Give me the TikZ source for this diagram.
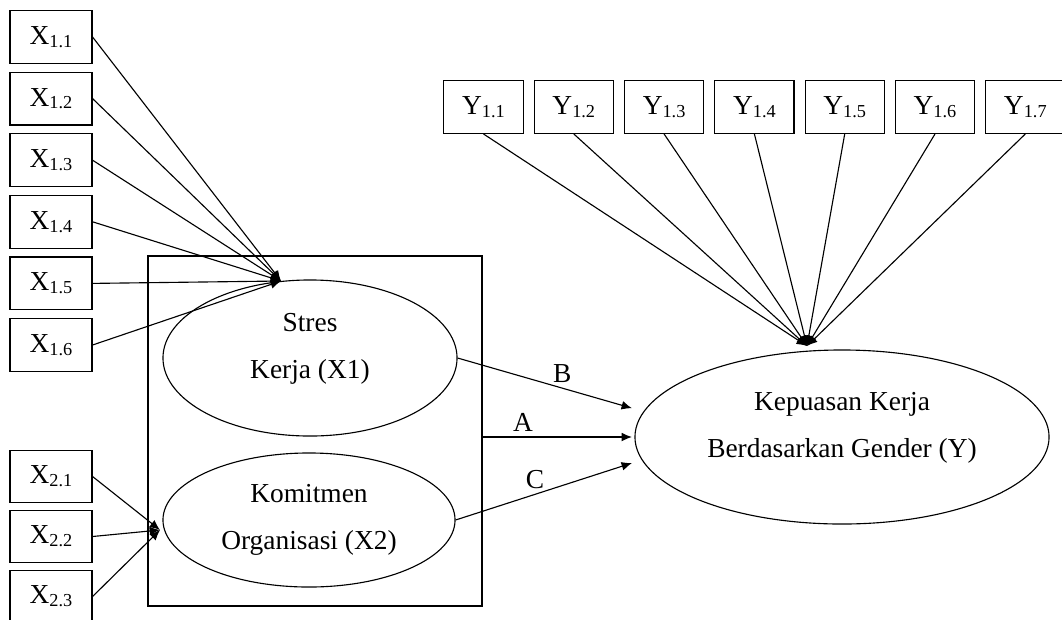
\documentclass[tikz,border=0pt]{standalone}
\usepackage{fontspec}
\setmainfont{Liberation Serif}
\usetikzlibrary{positioning, arrows.meta, calc, shapes.geometric}
\newcommand{\indic}[2]{#1\raisebox{-2pt}{\fontsize{13}{13}\selectfont #2}}

\begin{document}
\begin{tikzpicture}[x=0.025cm, y=-0.025cm,
    ind/.style={draw, line width=0.8pt, rectangle, minimum width=2.05cm, minimum height=1.32cm, inner sep=0pt, font=\fontsize{19.5}{23}\selectfont},
    lat/.style={draw, line width=0.8pt, ellipse, inner sep=0pt, align=center, font=\fontsize{19.5}{33}\selectfont},
    load/.style={-{Latex[length=2.6mm,width=2.2mm]}, line width=0.8pt},
    lbl/.style={above=0pt, font=\fontsize{19.5}{23}\selectfont}
]

    \path[use as bounding box, clip] (0,0) rectangle (1062,619);

    % Box round the two exogenous constructs
    \node[draw, line width=0.8pt, minimum width=8.35cm, minimum height=8.75cm] (grp) at (315,431) {};

    % Latent variables (text of X1 and Y sits a little above centre)
    \node[lat, minimum width=7.35cm, minimum height=3.9cm, text depth=17pt] (stres) at (310,358) {Stres\\Kerja (X1)};
    \node[lat, minimum width=7.3cm, minimum height=3.35cm] (komit) at (309,520) {Komitmen\\Organisasi (X2)};
    \node[lat, minimum width=10.35cm, minimum height=4.35cm, text depth=17pt] (kepuasan) at (842,437) {Kepuasan Kerja\\Berdasarkan Gender (Y)};

    % Points where the indicator arrows meet
    \coordinate (x1tip) at (281,281);
    \coordinate (x2tip) at (160,530);
    \coordinate (ytip) at (807,346);

    % Indicators of X1
    \foreach \i/\y in {1/37, 2/98.6, 3/160.2, 4/221.8, 5/283.4, 6/345} {
        \node[ind] (x1\i) at (51,\y) {\indic{X}{1.\i}};
        \draw[load] (x1\i.east) -- (x1tip);
    }

    % Indicators of X2
    \foreach \i/\y in {1/476.5, 2/536.5, 3/596.5} {
        \node[ind] (x2\i) at (51,\y) {\indic{X}{2.\i}};
        \draw[load] (x2\i.east) -- (x2tip);
    }

    % Indicators of Y
    \foreach \i in {1,...,7} {
        \node[ind, minimum width=1.98cm] (y\i) at ({483.5+90.3*(\i-1)},107) {\indic{Y}{1.\i}};
        \draw[load] (y\i.south) -- (ytip);
    }

    % Paths to Y
    \draw[load] (stres.east) -- ([xshift=-0.06cm, yshift=0.72cm]kepuasan.west) node[lbl, pos=0.6] {B};
    \draw[load] (grp.east |- kepuasan.west) -- ([xshift=-0.06cm]kepuasan.west) node[lbl, pos=0.27] {A};
    \draw[load] (komit.east) -- ([xshift=-0.06cm, yshift=-0.65cm]kepuasan.west) node[lbl, pos=0.45] {C};

\end{tikzpicture}
\end{document}
